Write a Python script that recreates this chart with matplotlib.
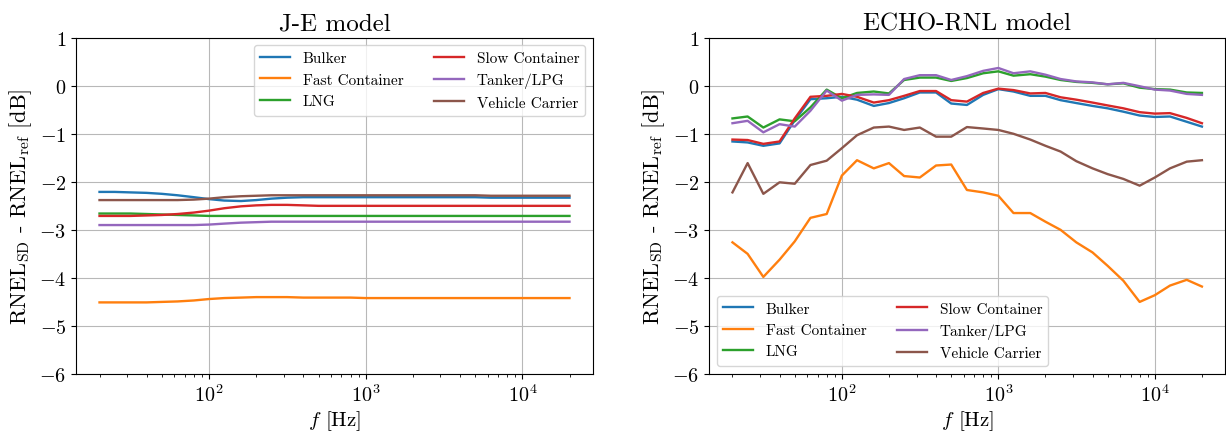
"""RNEL difference per 1/3-octave band for the J-E and ECHO-RNL models."""

import matplotlib

matplotlib.use("Agg")
import matplotlib.pyplot as plt

plt.rcParams.update({
    "font.family": "serif",
    "font.serif": ["cmr10", "DejaVu Serif"],
    "mathtext.fontset": "cm",
    "axes.formatter.use_mathtext": True,
    "axes.unicode_minus": True,
})

FREQS = [20, 25, 31.5, 40, 50, 63, 80, 100, 125, 160, 200, 250, 315, 400, 500,
         630, 800, 1000, 1250, 1600, 2000, 2500, 3150, 4000, 5000, 6300, 8000,
         10000, 12500, 16000, 20000]
SHIPS = ["Bulker", "Fast Container", "LNG", "Slow Container", "Tanker/LPG", "Vehicle Carrier"]
COLORS = ["#1f77b4", "#ff7f0e", "#2ca02c", "#d62728", "#9467bd", "#8c564b"]

# J-E model
je_bulker = [-2.21, -2.21, -2.22, -2.23, -2.25, -2.28, -2.32, -2.36, -2.39, -2.40, -2.38,
             -2.35, -2.33, -2.32, -2.32, -2.32, -2.32, -2.32, -2.32, -2.32, -2.32, -2.32,
             -2.32, -2.32, -2.32, -2.33, -2.33, -2.33, -2.33, -2.33, -2.33]
je_fast = [-4.51, -4.51, -4.51, -4.51, -4.50, -4.49, -4.47, -4.44, -4.42, -4.41, -4.40,
           -4.40, -4.40, -4.41, -4.41, -4.41, -4.41, -4.42, -4.42, -4.42, -4.42, -4.42,
           -4.42, -4.42, -4.42, -4.42, -4.42, -4.42, -4.42, -4.42, -4.42]
je_lng = [-2.66, -2.66, -2.66, -2.67, -2.68, -2.69, -2.70, -2.71, -2.71, -2.71, -2.71,
          -2.71, -2.71, -2.71, -2.71, -2.71, -2.71, -2.71, -2.71, -2.71, -2.71, -2.71,
          -2.71, -2.71, -2.71, -2.71, -2.71, -2.71, -2.71, -2.71, -2.71]
je_slow = [-2.71, -2.71, -2.71, -2.70, -2.69, -2.67, -2.64, -2.60, -2.55, -2.51, -2.49,
           -2.48, -2.48, -2.49, -2.50, -2.50, -2.50, -2.50, -2.50, -2.50, -2.50, -2.50,
           -2.50, -2.50, -2.50, -2.50, -2.50, -2.50, -2.50, -2.50, -2.50]
je_tanker = [-2.90, -2.90, -2.90, -2.90, -2.90, -2.90, -2.90, -2.89, -2.87, -2.85, -2.84,
             -2.83, -2.83, -2.83, -2.83, -2.83, -2.83, -2.83, -2.83, -2.83, -2.83, -2.83,
             -2.83, -2.83, -2.83, -2.83, -2.83, -2.83, -2.83, -2.83, -2.83]
je_vehicle = [-2.38, -2.38, -2.38, -2.38, -2.38, -2.38, -2.37, -2.35, -2.32, -2.30, -2.29,
              -2.28, -2.28, -2.28, -2.28, -2.28, -2.28, -2.28, -2.28, -2.28, -2.28, -2.28,
              -2.28, -2.28, -2.28, -2.29, -2.29, -2.29, -2.29, -2.29, -2.29]

# ECHO-RNL model
echo_bulker = [-1.16, -1.18, -1.25, -1.20, -0.72, -0.28, -0.26, -0.23, -0.29, -0.42, -0.36,
               -0.26, -0.14, -0.14, -0.37, -0.40, -0.19, -0.07, -0.12, -0.21, -0.21, -0.30,
               -0.36, -0.42, -0.47, -0.54, -0.62, -0.65, -0.64, -0.75, -0.85]
echo_fast = [-3.26, -3.50, -3.98, -3.62, -3.24, -2.75, -2.67, -1.87, -1.55, -1.72, -1.61,
             -1.88, -1.91, -1.66, -1.64, -2.17, -2.22, -2.29, -2.65, -2.65, -2.83, -3.00,
             -3.26, -3.47, -3.75, -4.06, -4.50, -4.36, -4.16, -4.04, -4.18]
echo_lng = [-0.68, -0.64, -0.87, -0.70, -0.74, -0.45, -0.08, -0.26, -0.15, -0.12, -0.16,
            0.12, 0.17, 0.17, 0.10, 0.16, 0.26, 0.30, 0.21, 0.24, 0.19, 0.12,
            0.08, 0.06, 0.03, 0.05, -0.04, -0.07, -0.08, -0.14, -0.15]
echo_slow = [-1.12, -1.13, -1.21, -1.16, -0.68, -0.23, -0.21, -0.17, -0.23, -0.35, -0.30,
             -0.21, -0.11, -0.11, -0.30, -0.33, -0.15, -0.06, -0.09, -0.16, -0.15, -0.24,
             -0.29, -0.35, -0.41, -0.47, -0.55, -0.58, -0.57, -0.67, -0.78]
echo_tanker = [-0.78, -0.73, -0.97, -0.80, -0.85, -0.52, -0.10, -0.31, -0.19, -0.18, -0.19,
               0.14, 0.22, 0.22, 0.12, 0.20, 0.31, 0.37, 0.26, 0.30, 0.23, 0.14,
               0.09, 0.07, 0.03, 0.06, -0.01, -0.08, -0.10, -0.17, -0.19]
echo_vehicle = [-2.22, -1.61, -2.25, -2.01, -2.04, -1.65, -1.56, -1.30, -1.03, -0.87, -0.85,
                -0.92, -0.87, -1.06, -1.06, -0.86, -0.89, -0.92, -1.00, -1.12, -1.25, -1.37,
                -1.57, -1.72, -1.84, -1.94, -2.08, -1.91, -1.72, -1.58, -1.55]

je_series = [je_bulker, je_fast, je_lng, je_slow, je_tanker, je_vehicle]
echo_series = [echo_bulker, echo_fast, echo_lng, echo_slow, echo_tanker, echo_vehicle]

fig = plt.figure(figsize=(12.26, 4.35), dpi=100)
ax_je = fig.add_axes([0.062, 0.138, 0.4217, 0.773])
ax_echo = fig.add_axes([0.5783, 0.138, 0.4212, 0.773])

panels = [
    (ax_je, je_series, "J-E model", "upper right"),
    (ax_echo, echo_series, "ECHO-RNL model", "lower left"),
]
for axis, series, title, legend_loc in panels:
    for name, color, values in zip(SHIPS, COLORS, series):
        axis.plot(FREQS, values, color=color, linewidth=1.7, label=name)
    axis.set_xscale("log")
    axis.set_ylim(-6, 1)
    axis.set_yticks(range(-6, 2))
    axis.grid(True, which="major", color="#b8b8b8")
    axis.tick_params(labelsize=14.5)
    axis.set_title(title, fontsize=18)
    axis.set_xlabel(r"$f$ [Hz]", fontsize=15, labelpad=2)
    axis.set_ylabel(r"RNEL$_{\mathrm{SD}}$ - RNEL$_{\mathrm{ref}}$ [dB]", fontsize=16)
    axis.legend(loc=legend_loc, ncol=2, fontsize=11)

fig.savefig("out.png", dpi=100)
